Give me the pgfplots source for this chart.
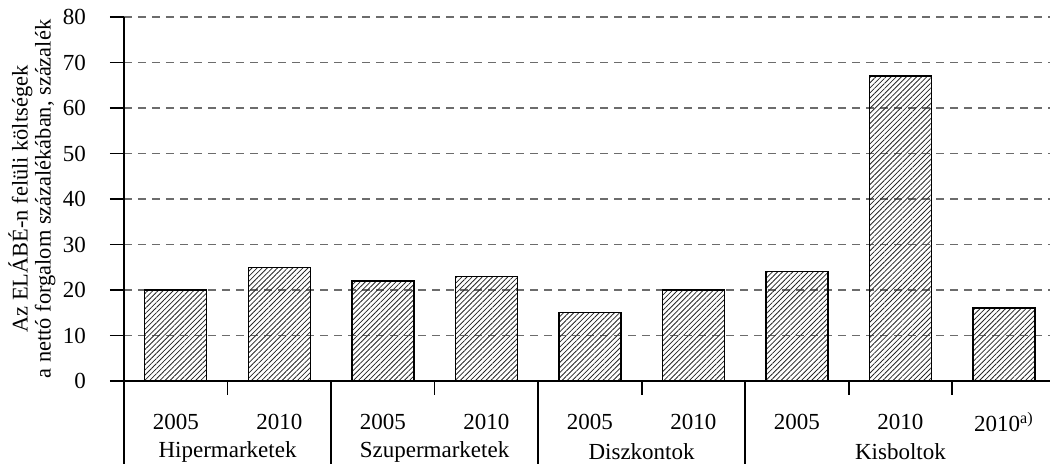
\documentclass[border=0pt]{standalone}
\usepackage{fontspec}
\setmainfont{Liberation Serif}
\usepackage{pgfplots}
\pgfplotsset{compat=1.18}
\usetikzlibrary{patterns.meta}

\pgfplotstableread{
x  val
0  20
1  25
2  22
3  23
4  15
5  20
6  24
7  67
8  16
}\costs

\begin{document}
\begin{tikzpicture}
\begin{axis}[
  scale only axis,
  width=463pt, height=182pt,
  xmin=-0.5, xmax=8.445,
  ymin=0, ymax=80,
  axis x line=bottom, axis y line=left,
  axis line style={-, black, line width=0.9pt},
  clip=false,
  /pgf/number format/assume math mode=true,
  ytick={0,10,...,80},
  ymajorgrids,
  grid style={dashed, dash pattern=on 4pt off 3pt, gray!85!black, line width=0.6pt},
  y tick style={black, line width=0.9pt},
  tick align=outside,
  major tick length=7pt,
  yticklabel style={font=\fontsize{11.5}{13}\selectfont, xshift=-8.5pt},
  xtick={0,...,8},
  xticklabels={2005,2010,2005,2010,2005,2010,2005,2010,2010\textsuperscript{a)}},
  x tick style={draw=none},
  xticklabel style={font=\fontsize{11.5}{13}\selectfont, anchor=center, yshift=-13.5pt},
  xticklabel shift=0pt,
  extra x ticks={0.5,2.5,4.5,6.5,7.5},
  extra x tick labels={},
  extra x tick style={grid=none, x tick style={draw=black, line width=0.9pt}, major tick length=7pt},
]
\addplot[ybar, bar width=31pt, draw=black, line width=0.7pt,
  pattern={Lines[angle=45, distance=1.8pt, line width=0.4pt]}, pattern color=black!85]
  table[x=x, y=val] {\costs};

% group separators running below the axis
\foreach \g in {-0.5,1.5,3.5,5.5}{
  \edef\tmp{\noexpand\draw[black, line width=0.9pt] (axis cs:\g,0) -- ([yshift=-41.5pt]axis cs:\g,0);}
  \tmp
}
\node[font=\fontsize{11.5}{13}\selectfont] at ([yshift=-35.5pt]axis cs:0.5,0) {Hipermarketek};
\node[font=\fontsize{11.5}{13}\selectfont] at ([yshift=-35.5pt]axis cs:2.5,0) {Szupermarketek};
\node[font=\fontsize{11.5}{13}\selectfont] at ([yshift=-35.5pt]axis cs:4.5,0) {Diszkontok};
\node[font=\fontsize{11.5}{13}\selectfont] at ([yshift=-35.5pt]axis cs:7,0) {Kisboltok};
\node[font=\fontsize{11.2}{11.5}\selectfont, rotate=90, align=center]
  at ([xshift=-46pt]axis cs:-0.5,40)
  {Az ELÁBÉ-n felüli költségek\\a nettó forgalom százalékában, százalék};
\end{axis}
\pgfresetboundingbox
\path ([shift={(-62pt,-41.5pt)}]current axis.south west) rectangle ([shift={(0pt,8.5pt)}]current axis.north east);
\end{tikzpicture}
\end{document}
